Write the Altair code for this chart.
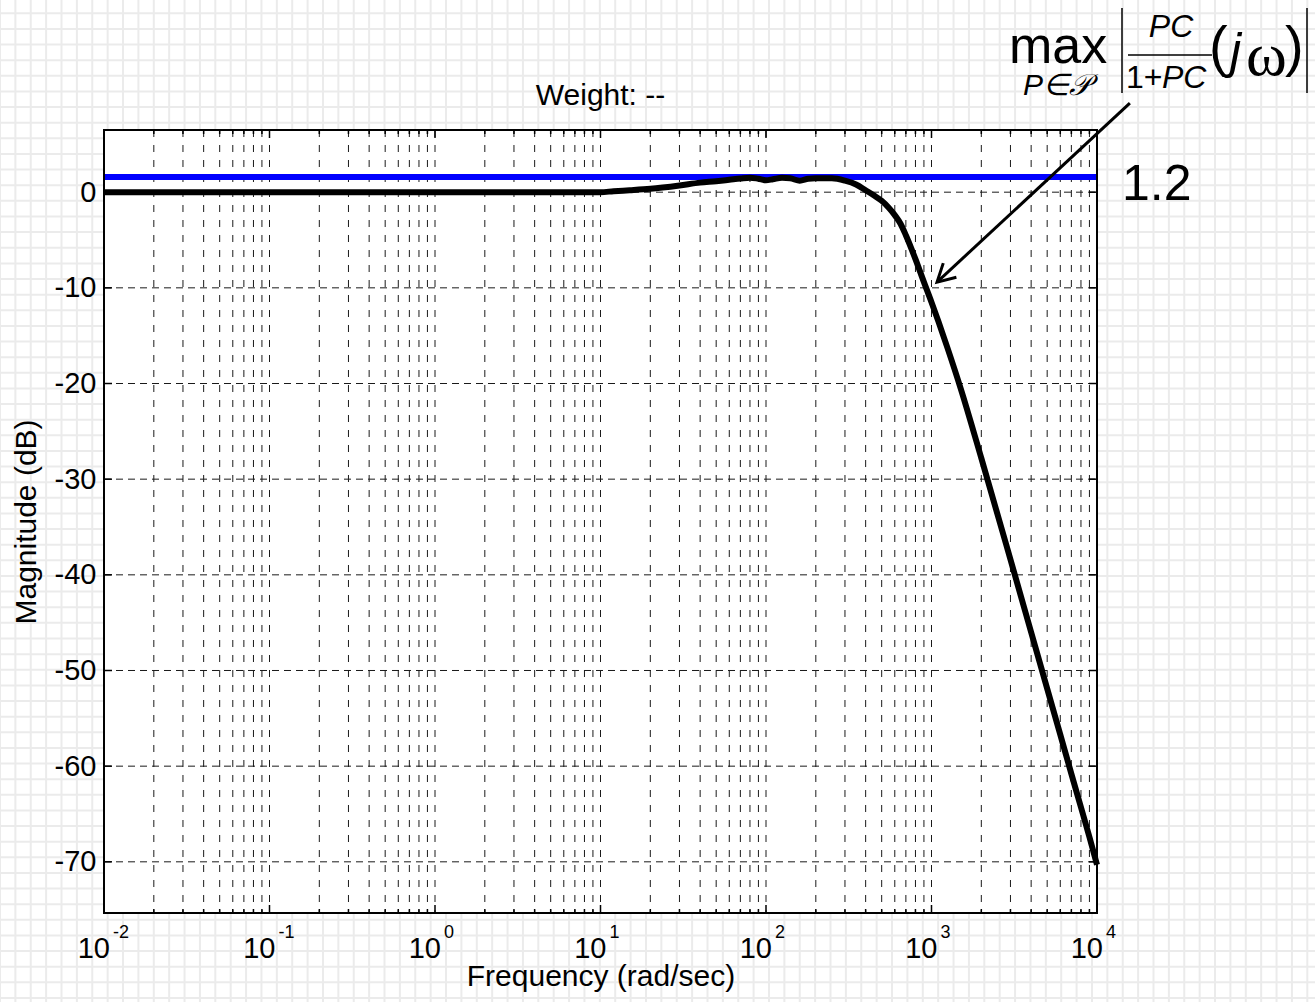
import altair as alt
import pandas as pd

# ---------------- layout ----------------
W, H = 993, 783
PAD = {"left": 104, "top": 130, "right": 218, "bottom": 89}
FONT = "Liberation Sans"

# ---------------- data ----------------
FREQ = [0.01, 0.1, 1, 5, 10, 12, 15, 20, 30, 40, 50, 60, 70, 80, 90, 100, 110, 125,
        140, 160, 180, 200, 250, 300, 350, 400, 450, 500, 550, 600, 650, 700, 800, 900,
        1000, 1100, 1250, 1500, 2000, 3000, 4000, 5000, 6000, 7000, 8000, 9000, 10000]
MAG_DB = [0, 0, 0, 0, 0, 0.1, 0.2, 0.35, 0.7, 1.0, 1.15, 1.3, 1.43, 1.52, 1.4, 1.25, 1.35, 1.5,
          1.45, 1.2, 1.4, 1.45, 1.45, 1.2, 0.8, 0.2, -0.35, -0.9, -1.6, -2.4, -3.3, -4.5, -7.0, -9.4,
          -11.5, -13.5, -16.3, -20.5, -27.8, -38.4, -46.0, -51.9, -56.7, -60.8, -64.3, -67.4, -70.3]

LIMIT_FREQ = [0.01, 10000]
LIMIT_DB = [1.58, 1.58]          # 20*log10(1.2)

DECADES = [0.01, 0.1, 1, 10, 100, 1000, 10000]
EXPONENTS = ["-2", "-1", "0", "1", "2", "3", "4"]
MINOR_X = [0.02, 0.03, 0.04, 0.05, 0.06, 0.07, 0.08, 0.09,
           0.2, 0.3, 0.4, 0.5, 0.6, 0.7, 0.8, 0.9,
           2, 3, 4, 5, 6, 7, 8, 9,
           20, 30, 40, 50, 60, 70, 80, 90,
           200, 300, 400, 500, 600, 700, 800, 900,
           2000, 3000, 4000, 5000, 6000, 7000, 8000, 9000]
Y_TICKS = [-70, -60, -50, -40, -30, -20, -10, 0]

ARROW_FREQ = [15800, 1080]
ARROW_DB = [9.3, -9.4]

BG_COLS = list(range(86))
BG_ROWS = list(range(64))

ONE = pd.DataFrame({"a": [0]})

# ---------------- scales / axes ----------------
XS = alt.Scale(type="log", domain=[0.01, 10000], nice=False)
YS = alt.Scale(domain=[-75.35, 6.5], nice=False, zero=False)

XAX = alt.Axis(labels=False, ticks=False, domain=False, grid=False,
               title="Frequency (rad/sec)", titleFont=FONT, titleFontSize=30,
               titleFontWeight="normal", titleColor="black",
               titleBaseline="alphabetic", titleY=72, zindex=1)
YAX = alt.Axis(values=Y_TICKS, labels=True, ticks=False, tickSize=0, domain=False, grid=False,
               labelExpr="'' + datum.value",
               labelFont=FONT, labelFontSize=29, labelColor="black", labelPadding=8,
               title="Magnitude (dB)", titleFont=FONT, titleFontSize=30,
               titleFontWeight="normal", titleColor="black", titleAngle=270,
               titleBaseline="alphabetic", titleX=-69, titleY=H / 2, titleAlign="center",
               zindex=1)


def xf():
    return alt.X("f:Q", scale=XS, axis=XAX)


def yf():
    return alt.Y("v:Q", scale=YS, axis=YAX)


# ---------------- page background grid ----------------
bg_v = alt.Chart(pd.DataFrame({"k": BG_COLS})).transform_calculate(
    px="datum.k * 15.38 - 104"
).mark_rule(stroke="#ebebeb", strokeWidth=2).encode(
    x=alt.X("px:Q", scale=None), y=alt.value(-130), y2=alt.value(1002 - 130)
)
bg_h = alt.Chart(pd.DataFrame({"k": BG_ROWS})).transform_calculate(
    py="13.3 + datum.k * 15.63 - 130"
).mark_rule(stroke="#ebebeb", strokeWidth=2).encode(
    y=alt.Y("py:Q", scale=None), x=alt.value(-104), x2=alt.value(1315 - 104)
)
white = alt.Chart(ONE).mark_rect(fill="white").encode(
    x=alt.value(0), x2=alt.value(W), y=alt.value(0), y2=alt.value(H)
)

# ---------------- plot grid & ticks ----------------
grid_v = alt.Chart(pd.DataFrame({"f": MINOR_X + DECADES[1:-1]})).mark_rule(
    stroke="#1a1a1a", strokeWidth=1, strokeDash=[7, 8]
).encode(x=xf(), y=alt.value(0), y2=alt.value(H))
grid_h = alt.Chart(pd.DataFrame({"v": Y_TICKS})).mark_rule(
    stroke="#1a1a1a", strokeWidth=1, strokeDash=[7, 5]
).encode(y=yf(), x=alt.value(0), x2=alt.value(W))

tick_layers = []
for data, ln in ((MINOR_X, 4), (DECADES, 8)):
    for y0, y1 in ((H, H - ln), (0, ln)):
        tick_layers.append(
            alt.Chart(pd.DataFrame({"f": data})).mark_rule(stroke="black", strokeWidth=1.5)
            .encode(x=xf(), y=alt.value(y0), y2=alt.value(y1))
        )
for x0, x1 in ((0, 8), (W, W - 8)):
    tick_layers.append(
        alt.Chart(pd.DataFrame({"v": Y_TICKS})).mark_rule(stroke="black", strokeWidth=1.5)
        .encode(y=yf(), x=alt.value(x0), x2=alt.value(x1))
    )

# ---------------- data lines ----------------
limit = alt.Chart(pd.DataFrame({"f": LIMIT_FREQ, "v": LIMIT_DB})).mark_line(
    color="#0000ff", strokeWidth=6
).encode(x=xf(), y=yf())
curve = alt.Chart(pd.DataFrame({"f": FREQ, "v": MAG_DB})).mark_line(
    color="black", strokeWidth=6, strokeJoin="round", interpolate="monotone"
).encode(x=xf(), y=yf())

box = alt.Chart(ONE).mark_rect(fill="white", fillOpacity=0, stroke="black", strokeWidth=2).encode(
    x=alt.value(0), x2=alt.value(W), y=alt.value(0), y2=alt.value(H)
)

# ---------------- x tick labels (10^k) ----------------
dec_df = pd.DataFrame({"f": DECADES, "e": EXPONENTS})
lab_base = alt.Chart(dec_df).mark_text(
    text="10", align="right", dx=6, baseline="alphabetic", font=FONT, fontSize=29, color="black"
).encode(x=xf(), y=alt.value(H + 45))
lab_exp = alt.Chart(dec_df).mark_text(
    align="left", dx=9, baseline="alphabetic", font=FONT, fontSize=18, color="black"
).encode(x=xf(), y=alt.value(H + 25), text="e:N")

# ---------------- annotation ----------------
arrow = alt.Chart(pd.DataFrame({"f": ARROW_FREQ, "v": ARROW_DB})).mark_line(
    color="black", strokeWidth=3
).encode(x=xf(), y=yf())
arrow_head = alt.Chart(pd.DataFrame({"f": ARROW_FREQ[-1:], "v": ARROW_DB[-1:]})).mark_point(
    shape="M -1 -0.55 L 0 0 L -1 0.55", filled=False, stroke="black", strokeWidth=3,
    size=1225, angle=137, opacity=1
).encode(x=xf(), y=yf())


def txt(s, x, y, size, style="normal", font=FONT, align="left"):
    return alt.Chart(ONE).mark_text(
        text=s, align=align, baseline="alphabetic", font=font, fontSize=size,
        fontStyle=style, color="black"
    ).encode(x=alt.value(x), y=alt.value(y))


def seg(x0, y0, x1, y1, w=1.5):
    return alt.Chart(ONE).mark_rule(stroke="black", strokeWidth=w).encode(
        x=alt.value(x0), y=alt.value(y0), x2=alt.value(x1), y2=alt.value(y1)
    )


title = txt("Weight: --", W / 2, -25, 30, align="center")

formula = [
    txt("max", 905, -67, 52),
    txt("P\u2208\U0001D4AB", 919, -35, 30, style="italic"),
    seg(1018, -122, 1018, -37),
    seg(1203, -122, 1203, -37),
    txt("PC", 1067, -93, 32, style="italic", align="center"),
    seg(1024, -75, 1108, -75),
    txt("1+", 1022, -42, 32),
    txt("PC", 1058, -42, 32, style="italic"),
    txt("(", 1105, -65, 56),
    txt("j", 1126, -62, 50, style="italic"),
    txt("\u03c9", 1142, -55, 62, font="Liberation Serif"),
    txt(")", 1181, -65, 56),
    txt("1.2", 1018, 70, 50),
]

layers = [bg_v, bg_h, white, grid_v, grid_h] + tick_layers + [
    limit, curve, box, lab_base, lab_exp, arrow, arrow_head, title] + formula

chart = alt.layer(*layers).properties(
    width=W, height=H, padding=PAD,
    autosize=alt.AutoSizeParams(type="none"),
).configure_view(strokeWidth=0).configure(background="white")

chart.save("out.html", embed_options={"renderer": "svg", "actions": False})
